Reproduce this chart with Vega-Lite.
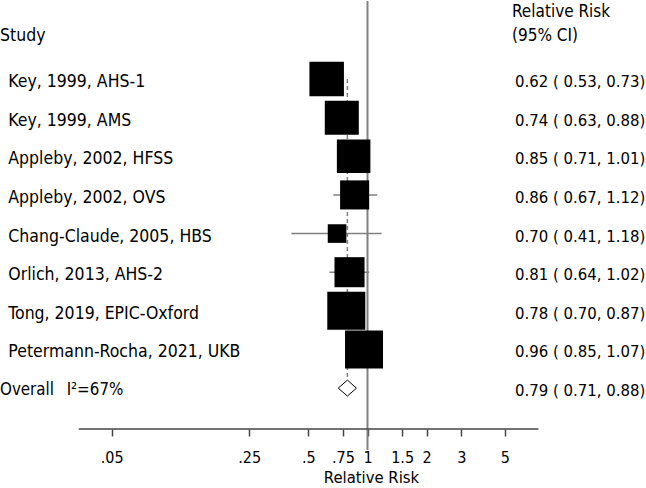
{
  "$schema": "https://vega.github.io/schema/vega-lite/v6.json",
  "width": 646,
  "height": 429,
  "autosize": {"type": "none"},
  "padding": {"left": 0, "top": 0, "right": 0, "bottom": 59},
  "background": "white",
  "config": {
    "view": {"stroke": null},
    "font": "DejaVu Sans Condensed",
    "text": {"font": "DejaVu Sans Condensed", "fontSize": 17.5, "color": "black", "baseline": "alphabetic", "dy": 8, "align": "left"},
    "axisX": {
      "domain": false, "grid": false,
      "tickSize": 7, "tickColor": "#444444", "tickWidth": 1.5,
      "labelFont": "DejaVu Sans Condensed", "labelFontSize": 16, "labelColor": "black",
      "labelPadding": 13, "labelFlush": false, "labelOverlap": false,
      "titleFont": "DejaVu Sans Condensed", "titleFontSize": 16.5,
      "titleFontWeight": "normal", "titleColor": "black", "titlePadding": 4
    }
  },
  "data": {
    "values": [
      {"study": "Key, 1999, AHS-1", "rr": 0.62, "lo": 0.53, "hi": 0.73, "weight": 14.1, "row": 1, "type": "study", "ci": "0.62 ( 0.53, 0.73)"},
      {"study": "Key, 1999, AMS", "rr": 0.74, "lo": 0.63, "hi": 0.88, "weight": 13.7, "row": 2, "type": "study", "ci": "0.74 ( 0.63, 0.88)"},
      {"study": "Appleby, 2002, HFSS", "rr": 0.85, "lo": 0.71, "hi": 1.01, "weight": 13.3, "row": 3, "type": "study", "ci": "0.85 ( 0.71, 1.01)"},
      {"study": "Appleby, 2002, OVS", "rr": 0.86, "lo": 0.67, "hi": 1.12, "weight": 10.0, "row": 4, "type": "study", "ci": "0.86 ( 0.67, 1.12)"},
      {"study": "Chang-Claude, 2005, HBS", "rr": 0.70, "lo": 0.41, "hi": 1.18, "weight": 4.1, "row": 5, "type": "study", "ci": "0.70 ( 0.41, 1.18)"},
      {"study": "Orlich, 2013, AHS-2", "rr": 0.81, "lo": 0.64, "hi": 1.02, "weight": 10.7, "row": 6, "type": "study", "ci": "0.81 ( 0.64, 1.02)"},
      {"study": "Tong, 2019, EPIC-Oxford", "rr": 0.78, "lo": 0.70, "hi": 0.87, "weight": 17.1, "row": 7, "type": "study", "ci": "0.78 ( 0.70, 0.87)"},
      {"study": "Petermann-Rocha, 2021, UKB", "rr": 0.96, "lo": 0.85, "hi": 1.07, "weight": 17.1, "row": 8, "type": "study", "ci": "0.96 ( 0.85, 1.07)"},
      {"study": "Overall", "rr": 0.79, "lo": 0.71, "hi": 0.88, "weight": 0, "row": 9, "type": "overall", "ci": "0.79 ( 0.71, 0.88)", "note": "I²=67%"}
    ]
  },
  "encoding": {
    "y": {"field": "row", "type": "quantitative", "scale": {"domain": [-1.0445, 10.058], "reverse": true, "nice": false, "zero": false}, "axis": null}
  },
  "layer": [
    {
      "transform": [{"filter": "datum.type == 'study'"}],
      "mark": {"type": "rule", "color": "#808080", "strokeWidth": 1.5},
      "encoding": {
        "x": {"field": "lo", "type": "quantitative",
          "scale": {"type": "log", "domain": [0.01352, 26.08], "nice": false},
          "axis": {"values": [0.05, 0.25, 0.5, 0.75, 1, 1.5, 2, 3, 5], "format": "~g", "labelExpr": "datum.value < 1 ? slice(datum.label, 1) : datum.label", "title": "Relative Risk", "titleX": 371}},
        "x2": {"field": "hi"}
      }
    },
    {
      "transform": [{"filter": "datum.type == 'overall'"}],
      "mark": {"type": "rule", "color": "#808080", "strokeWidth": 2},
      "encoding": {
        "x": {"datum": 1, "type": "quantitative", "axis": {"values": [0.05, 0.25, 0.5, 0.75, 1, 1.5, 2, 3, 5], "format": "~g", "labelExpr": "datum.value < 1 ? slice(datum.label, 1) : datum.label", "title": "Relative Risk", "titleX": 371}},
        "y": {"datum": -1.02, "type": "quantitative", "axis": null},
        "y2": {"datum": 10.6}
      }
    },
    {
      "transform": [{"filter": "datum.type == 'overall'"}],
      "mark": {"type": "rule", "color": "#444444", "strokeWidth": 1.5},
      "encoding": {
        "x": {"datum": 0.034, "type": "quantitative", "axis": {"values": [0.05, 0.25, 0.5, 0.75, 1, 1.5, 2, 3, 5], "format": "~g", "labelExpr": "datum.value < 1 ? slice(datum.label, 1) : datum.label", "title": "Relative Risk", "titleX": 371}},
        "x2": {"datum": 7.4},
        "y": {"datum": 10.058, "type": "quantitative", "axis": null}
      }
    },
    {
      "transform": [{"filter": "datum.type == 'overall'"}],
      "mark": {"type": "rule", "color": "#808080", "strokeWidth": 1.5, "strokeDash": [4, 3]},
      "encoding": {
        "x": {"field": "rr", "type": "quantitative", "axis": {"values": [0.05, 0.25, 0.5, 0.75, 1, 1.5, 2, 3, 5], "format": "~g", "labelExpr": "datum.value < 1 ? slice(datum.label, 1) : datum.label", "title": "Relative Risk", "titleX": 371}},
        "y": {"datum": 1, "type": "quantitative", "axis": null},
        "y2": {"datum": 8.79}
      }
    },
    {
      "transform": [{"filter": "datum.type == 'study'"}],
      "mark": {"type": "point", "shape": "square", "filled": true, "color": "black", "opacity": 1},
      "encoding": {
        "x": {"field": "rr", "type": "quantitative", "axis": {"values": [0.05, 0.25, 0.5, 0.75, 1, 1.5, 2, 3, 5], "format": "~g", "labelExpr": "datum.value < 1 ? slice(datum.label, 1) : datum.label", "title": "Relative Risk", "titleX": 371}},
        "size": {"field": "weight", "type": "quantitative", "scale": {"domain": [0, 20], "range": [0, 1689]}, "legend": null}
      }
    },
    {
      "transform": [{"filter": "datum.type == 'overall'"}],
      "mark": {"type": "point", "shape": "M-1,0L0,-0.88L1,0L0,0.88Z", "filled": true, "fill": "white", "stroke": "black", "strokeWidth": 1, "opacity": 1, "size": 331},
      "encoding": {
        "x": {"field": "rr", "type": "quantitative", "axis": {"values": [0.05, 0.25, 0.5, 0.75, 1, 1.5, 2, 3, 5], "format": "~g", "labelExpr": "datum.value < 1 ? slice(datum.label, 1) : datum.label", "title": "Relative Risk", "titleX": 371}}
      }
    },
    {
      "transform": [{"filter": "datum.type == 'study'"}],
      "mark": {"type": "text"},
      "encoding": {
        "x": {"datum": 0.01491, "type": "quantitative", "axis": {"values": [0.05, 0.25, 0.5, 0.75, 1, 1.5, 2, 3, 5], "format": "~g", "labelExpr": "datum.value < 1 ? slice(datum.label, 1) : datum.label", "title": "Relative Risk", "titleX": 371}},
        "text": {"field": "study"}
      }
    },
    {
      "transform": [{"filter": "datum.type == 'overall'"}],
      "mark": {"type": "text", "dy": 7, "fontSize": 16.8},
      "encoding": {
        "x": {"datum": 0.01352, "type": "quantitative", "axis": {"values": [0.05, 0.25, 0.5, 0.75, 1, 1.5, 2, 3, 5], "format": "~g", "labelExpr": "datum.value < 1 ? slice(datum.label, 1) : datum.label", "title": "Relative Risk", "titleX": 371}},
        "text": {"field": "study"}
      }
    },
    {
      "transform": [{"filter": "datum.type == 'overall'"}],
      "mark": {"type": "text", "dy": 7, "fontSize": 16.8},
      "encoding": {
        "x": {"datum": 0.0295, "type": "quantitative", "axis": {"values": [0.05, 0.25, 0.5, 0.75, 1, 1.5, 2, 3, 5], "format": "~g", "labelExpr": "datum.value < 1 ? slice(datum.label, 1) : datum.label", "title": "Relative Risk", "titleX": 371}},
        "text": {"field": "note"}
      }
    },
    {
      "mark": {"type": "text", "fontSize": 16.6},
      "encoding": {
        "x": {"datum": 5.624, "type": "quantitative", "axis": {"values": [0.05, 0.25, 0.5, 0.75, 1, 1.5, 2, 3, 5], "format": "~g", "labelExpr": "datum.value < 1 ? slice(datum.label, 1) : datum.label", "title": "Relative Risk", "titleX": 371}},
        "text": {"field": "ci"}
      }
    },
    {
      "transform": [{"filter": "datum.type == 'overall'"}],
      "mark": {"type": "text"},
      "encoding": {
        "x": {"datum": 0.01352, "type": "quantitative", "axis": {"values": [0.05, 0.25, 0.5, 0.75, 1, 1.5, 2, 3, 5], "format": "~g", "labelExpr": "datum.value < 1 ? slice(datum.label, 1) : datum.label", "title": "Relative Risk", "titleX": 371}},
        "y": {"datum": -0.203, "type": "quantitative", "axis": null},
        "text": {"value": "Study"}
      }
    },
    {
      "transform": [{"filter": "datum.type == 'overall'"}],
      "mark": {"type": "text", "fontSize": 17},
      "encoding": {
        "x": {"datum": 5.43, "type": "quantitative", "axis": {"values": [0.05, 0.25, 0.5, 0.75, 1, 1.5, 2, 3, 5], "format": "~g", "labelExpr": "datum.value < 1 ? slice(datum.label, 1) : datum.label", "title": "Relative Risk", "titleX": 371}},
        "y": {"datum": -0.819, "type": "quantitative", "axis": null},
        "text": {"value": "Relative Risk"}
      }
    },
    {
      "transform": [{"filter": "datum.type == 'overall'"}],
      "mark": {"type": "text", "fontSize": 17},
      "encoding": {
        "x": {"datum": 5.43, "type": "quantitative", "axis": {"values": [0.05, 0.25, 0.5, 0.75, 1, 1.5, 2, 3, 5], "format": "~g", "labelExpr": "datum.value < 1 ? slice(datum.label, 1) : datum.label", "title": "Relative Risk", "titleX": 371}},
        "y": {"datum": -0.203, "type": "quantitative", "axis": null},
        "text": {"value": "(95% CI)"}
      }
    }
  ]
}
